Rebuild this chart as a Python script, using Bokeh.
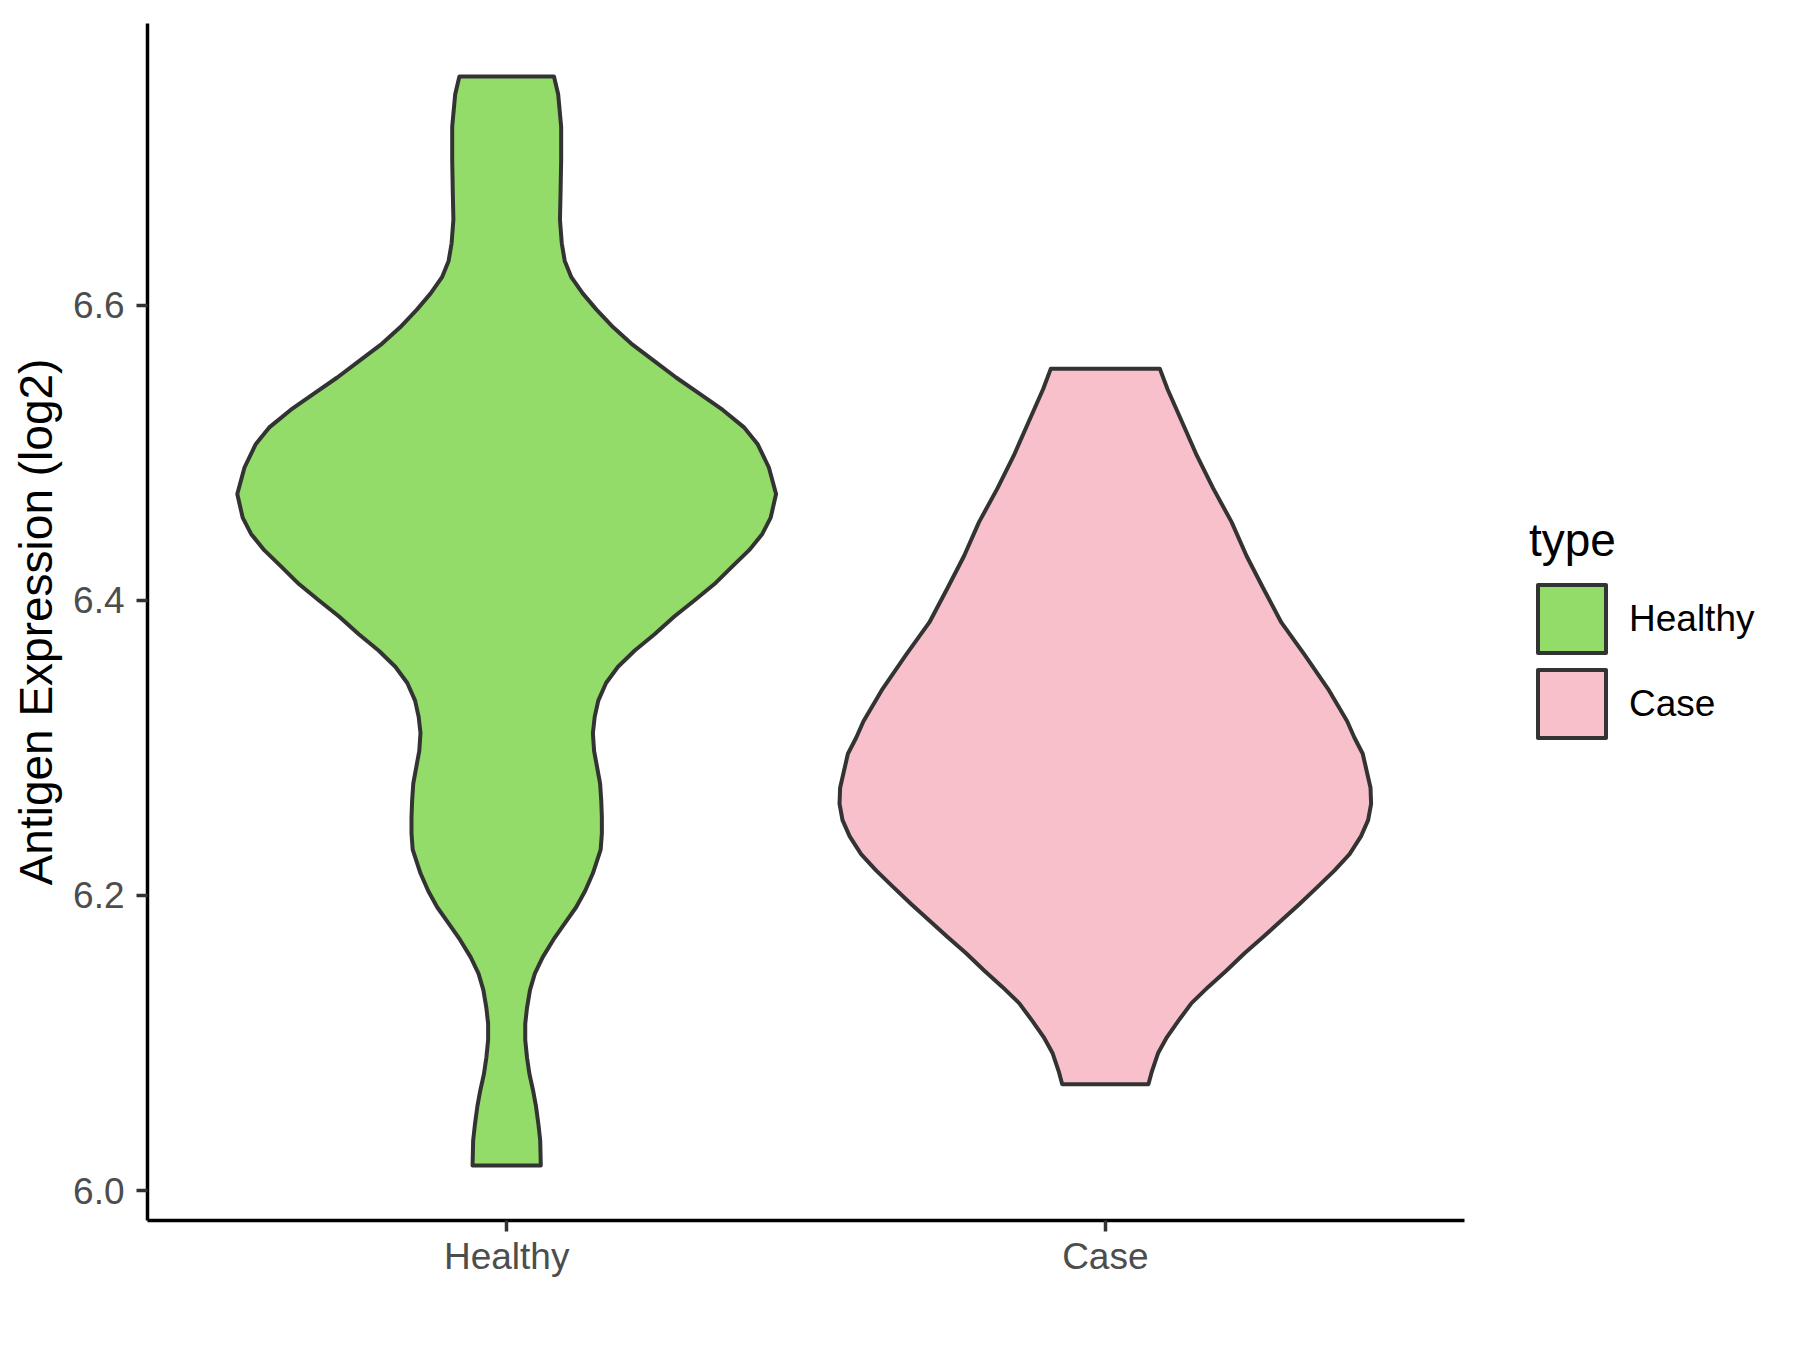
from bokeh.plotting import figure
from bokeh.models import Range1d, FixedTicker, Legend, LegendItem
from bokeh.embed import file_html
from bokeh.resources import INLINE

# ---- data ----
categories = ["Healthy", "Case"]
category_pos = [1, 2]
y_ticks = [6.0, 6.2, 6.4, 6.6]
y_tick_labels = ["6.0", "6.2", "6.4", "6.6"]

# violin outline: expression value and half-width (in category units)
healthy_y = [6.017, 6.034, 6.045, 6.057, 6.068, 6.079, 6.090, 6.102, 6.113, 6.124,
             6.136, 6.147, 6.158, 6.170, 6.181, 6.192, 6.203, 6.215, 6.231, 6.242,
             6.253, 6.264, 6.276, 6.287, 6.298, 6.310, 6.321, 6.332, 6.344, 6.355,
             6.366, 6.377, 6.389, 6.400, 6.411, 6.423, 6.434, 6.445, 6.456, 6.472,
             6.490, 6.506, 6.517, 6.529, 6.540, 6.551, 6.563, 6.574, 6.585, 6.597,
             6.608, 6.619, 6.630, 6.642, 6.658, 6.676, 6.698, 6.721, 6.743, 6.755]
healthy_hw = [0.057, 0.056, 0.053, 0.049, 0.044, 0.038, 0.034, 0.031, 0.031, 0.034,
              0.039, 0.047, 0.060, 0.078, 0.097, 0.116, 0.131, 0.144, 0.157, 0.159,
              0.159, 0.158, 0.156, 0.151, 0.146, 0.144, 0.147, 0.153, 0.166, 0.186,
              0.214, 0.247, 0.280, 0.314, 0.347, 0.377, 0.405, 0.427, 0.441, 0.450,
              0.438, 0.419, 0.397, 0.361, 0.322, 0.283, 0.244, 0.208, 0.178, 0.150,
              0.127, 0.108, 0.097, 0.092, 0.089, 0.090, 0.091, 0.091, 0.086, 0.079]

case_y = [6.072, 6.081, 6.093, 6.104, 6.115, 6.127, 6.138, 6.149, 6.161, 6.172,
          6.183, 6.194, 6.206, 6.217, 6.228, 6.240, 6.251, 6.262, 6.273, 6.296,
          6.307, 6.318, 6.340, 6.363, 6.385, 6.408, 6.430, 6.453, 6.476, 6.498,
          6.521, 6.543, 6.557]
case_hw = [0.072, 0.078, 0.088, 0.103, 0.122, 0.144, 0.172, 0.202, 0.233, 0.264,
           0.294, 0.324, 0.355, 0.383, 0.408, 0.427, 0.439, 0.444, 0.443, 0.430,
           0.416, 0.404, 0.372, 0.333, 0.294, 0.264, 0.236, 0.211, 0.180, 0.153,
           0.128, 0.104, 0.091]

colors = ["#94DC6A", "#F7C0CB"]
outline = "#333333"
FONT = "Liberation Sans"

p = figure(x_range=Range1d(0.4, 2.6), y_range=Range1d(5.9797, 6.7909),
           frame_width=1317, frame_height=1197,
           min_border_left=147, min_border_top=23, min_border_bottom=60,
           min_border_right=10,
           output_backend="svg", toolbar_location=None)
p.outline_line_color = None
p.xgrid.visible = False
p.ygrid.visible = False
p.background_fill_color = "white"

renderers = []
for pos, ys, hws, col in [(category_pos[0], healthy_y, healthy_hw, colors[0]),
                          (category_pos[1], case_y, case_hw, colors[1])]:
    xs = [pos + h for h in hws] + [pos - h for h in reversed(hws)]
    yy = list(ys) + list(reversed(ys))
    r = p.patch(xs, yy, fill_color=col, line_color=outline, line_width=4,
                line_join="round")
    renderers.append(r)

# axes
for ax in (p.xaxis[0], p.yaxis[0]):
    ax.axis_line_color = "black"
    ax.axis_line_width = 3.5
    ax.major_tick_line_color = outline
    ax.major_tick_line_width = 3.5
    ax.major_tick_out = 11
    ax.major_tick_in = 0
    ax.minor_tick_line_color = None
    ax.major_label_text_font = FONT
    ax.major_label_text_font_size = "37px"
    ax.major_label_text_color = "#4D4D4D"

p.xaxis.ticker = FixedTicker(ticks=category_pos)
p.xaxis.major_label_overrides = {category_pos[i]: categories[i] for i in range(2)}
p.xaxis.major_label_standoff = 4

p.yaxis.ticker = FixedTicker(ticks=y_ticks)
p.yaxis.major_label_overrides = {y_ticks[i]: y_tick_labels[i] for i in range(len(y_ticks))}
p.yaxis.major_label_standoff = 12
p.yaxis.axis_label = "Antigen Expression (log2)"
p.yaxis.axis_label_text_font = FONT
p.yaxis.axis_label_text_font_size = "46px"
p.yaxis.axis_label_text_font_style = "normal"
p.yaxis.axis_label_text_color = "black"
p.yaxis.axis_label_standoff = 8

legend = Legend(items=[LegendItem(label=categories[i], renderers=[renderers[i]]) for i in range(2)],
                location=(65, 474), title="type")
legend.title_text_font = FONT
legend.title_text_font_size = "46px"
legend.title_text_font_style = "normal"
legend.title_text_color = "black"
legend.title_standoff = 9
legend.label_text_font = FONT
legend.label_text_font_size = "37px"
legend.label_text_color = "black"
legend.glyph_width = 85
legend.glyph_height = 85
legend.label_standoff = 15
legend.spacing = -13
legend.padding = 10
legend.margin = 63
legend.border_line_color = None
legend.background_fill_alpha = 0
p.add_layout(legend, "right")

open("out.html", "w").write(file_html(p, INLINE))
